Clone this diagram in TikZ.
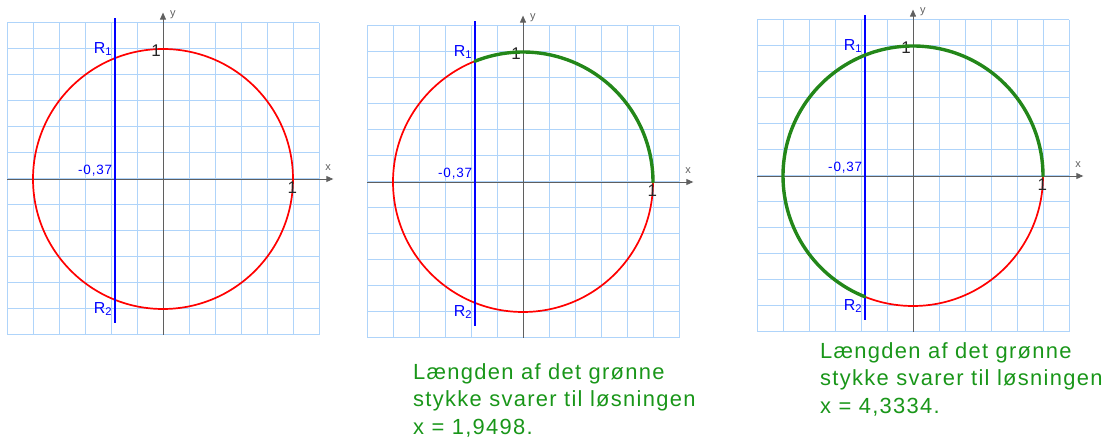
\documentclass[tikz,border=0pt]{standalone}
\usepackage{fontspec}
\setmainfont{Liberation Sans}[LetterSpace=6]
\usetikzlibrary{arrows.meta}
\definecolor{gridblue}{RGB}{175,212,250}
\definecolor{axisgray}{RGB}{95,95,95}
\definecolor{arcgreen}{RGB}{35,135,25}
\definecolor{textgreen}{RGB}{25,150,25}

\begin{document}
\begin{tikzpicture}[
  gridline/.style = {gridblue, line width=1bp},
  axis/.style     = {axisgray, line width=0.9bp, -{Triangle[length=7bp,width=6bp]}},
  circ/.style     = {red, line width=1.7bp},
  cutline/.style  = {blue, line width=2.6bp},
  greenarc/.style = {arcgreen, line width=3.4bp, line cap=round, line join=round},
  axlbl/.style    = {inner sep=0pt, axisgray, font=\fontsize{11}{12}\selectfont},
  unitlbl/.style  = {inner sep=0pt, black!85, font=\fontsize{17}{19}\selectfont},
  rlbl/.style     = {inner sep=0pt, blue, font=\fontsize{16}{18}\selectfont},
  vallbl/.style   = {inner sep=0pt, blue, font=\fontsize{13.5}{15}\selectfont},
  caption/.style  = {inner sep=0pt, anchor=north west, align=left, textgreen,
                     font=\fontsize{22}{28}\selectfont},
]
\useasboundingbox (0,0) rectangle (1119bp,439bp);

% ---- three unit circles with grid, axes and the line x = -0.37 ----
\foreach \cx/\cy/\p in {163/260/a, 523/257/b, 913/263/c} {
  \begin{scope}[shift={(\cx bp,\cy bp)}, x=130bp, y=130bp]
    \foreach \k in {-6,...,6} {
      \draw[gridline] (\k/5,-1.2) -- (\k/5,1.2);
      \draw[gridline] (-1.2,\k/5) -- (1.2,\k/5);
    }
    \coordinate (xl-\p) at (-1.2,0);
    \coordinate (xr-\p) at (1.31,0);
    \coordinate (yb-\p) at (0,-1.2);
    \coordinate (yt-\p) at (0,1.28);
    \draw[axis] (xl-\p) -- (xr-\p);
    \draw[axis] (yb-\p) -- (yt-\p);
    \node[axlbl] (xlab-\p) at (1.27,0.09) {x};
    \node[axlbl] (ylab-\p) at (0.075,1.26) {y};
    \draw[circ] (0,0) circle[radius=1];
    \coordinate (ct-\p) at (-0.37,1.235);
    \coordinate (cb-\p) at (-0.37,-1.11);
    \draw[cutline] (ct-\p) -- (cb-\p);
    \node[unitlbl, anchor=east] (ytick-\p) at (-0.015,0.99) {1};
    \node[unitlbl, anchor=north] (xtick-\p) at (0.995,-0.02) {1};
    \node[rlbl, anchor=east] (r1-\p) at (-0.39,1.0) {R\textsubscript{1}};
    \node[rlbl, anchor=east] (r2-\p) at (-0.39,-1.0) {R\textsubscript{2}};
    \node[vallbl, anchor=south east] (val-\p) at (-0.39,0.02) {-0,37};
  \end{scope}
}

% ---- green arc lengths ----
\begin{scope}[shift={(523bp,257bp)}, x=130bp, y=130bp]
  \draw[greenarc] (1,0) arc[start angle=0, end angle=111.7, radius=1];
\end{scope}
\begin{scope}[shift={(913bp,263bp)}, x=130bp, y=130bp]
  \draw[greenarc] (1,0) arc[start angle=0, end angle=248.3, radius=1];
\end{scope}

% ---- captions ----
\node[caption] (cap-b) at (413bp,76bp) {Længden af det grønne\\ stykke svarer til løsningen\\ x = 1,9498.};
\node[caption] (cap-c) at (820bp,97bp) {Længden af det grønne\\ stykke svarer til løsningen\\ x = 4,3334.};

\end{tikzpicture}
\end{document}
